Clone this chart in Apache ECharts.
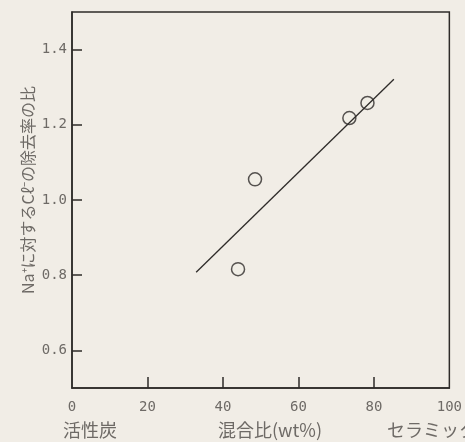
<!DOCTYPE html>
<html><head><meta charset="utf-8">
<script src="https://cdn.jsdelivr.net/npm/echarts@6/dist/echarts.min.js"></script>
<style>html,body{margin:0;padding:0;background:#f1ede6}#c{width:465px;height:442px}</style>
</head><body><div id="c"></div>
<script>
// data
const pointsX = [44, 48.5, 73.5, 78.3];
const pointsY = [0.816, 1.055, 1.218, 1.258];
const lineX = [32.9, 85.3];
const lineY = [0.808, 1.321];
const xTicks = [0, 20, 40, 60, 80, 100];
const yTicks = [0.6, 0.8, 1.0, 1.2, 1.4];
const xName = '混合比(wt%)';
const yName = 'Na⁺に対するCℓ⁻の除去率の比';
const leftLabel = '活性炭';
const rightLabel = 'セラミック';

const ink = '#2e2b29';
const grayText = '#6e6a66';
const mono = '"DejaVu Sans Mono", monospace';
const jp = '"Noto Sans CJK JP", sans-serif';

const chart = echarts.init(document.getElementById('c'));
chart.setOption({
  backgroundColor: '#f1ede6',
  animation: false,
  grid: {left: 72, right: 12, top: 12, bottom: 54, show: true, borderColor: ink, borderWidth: 1.5, backgroundColor: 'transparent'},
  xAxis: {
    type: 'value', min: 0, max: 100, interval: 20,
    axisLine: {show: true, lineStyle: {color: ink, width: 1.5}},
    axisTick: {show: true, inside: true, length: 11, lineStyle: {color: ink, width: 1.5}, customValues: xTicks.slice(1, -1)},
    axisLabel: {color: grayText, fontFamily: mono, fontSize: 14, margin: 12, customValues: xTicks},
    splitLine: {show: false}
  },
  yAxis: {
    type: 'value', min: 0.5, max: 1.5, interval: 0.1,
    axisLine: {show: true, lineStyle: {color: ink, width: 1.5}},
    axisTick: {show: true, inside: true, length: 10, lineStyle: {color: ink, width: 1.5}, customValues: yTicks},
    axisLabel: {color: grayText, fontFamily: mono, fontSize: 14, margin: 5, customValues: yTicks, formatter: v => v.toFixed(1)},
    splitLine: {show: false}
  },
  graphic: [
    {type: 'text', x: 28, y: 190, rotation: Math.PI / 2,
     style: {text: yName, fill: grayText, font: '16px ' + jp, align: 'center', verticalAlign: 'middle'}},
    {type: 'text', x: 90, y: 430, style: {text: leftLabel, fill: grayText, font: '18px ' + jp, align: 'center', verticalAlign: 'middle'}},
    {type: 'text', x: 270, y: 430, style: {text: xName, fill: grayText, font: '18px ' + jp, align: 'center', verticalAlign: 'middle'}},
    {type: 'text', x: 387, y: 430, style: {text: rightLabel, fill: grayText, font: '18px ' + jp, align: 'left', verticalAlign: 'middle'}}
  ],
  series: [
    {type: 'line', data: lineX.map((x, i) => [x, lineY[i]]), symbol: 'none', lineStyle: {color: ink, width: 1.3}, silent: true},
    {type: 'scatter', data: pointsX.map((x, i) => [x, pointsY[i]]), symbol: 'circle', symbolSize: 13,
     itemStyle: {color: '#f1ede6', borderColor: ink, borderWidth: 1.5}}
  ]
});
</script></body></html>
